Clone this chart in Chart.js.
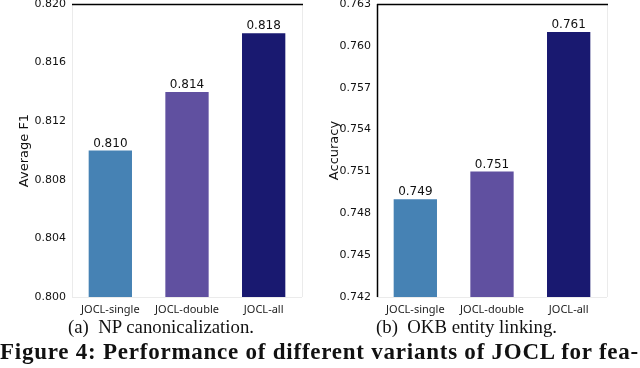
<!DOCTYPE html>
<html><head><meta charset="utf-8">
<script src="https://cdn.jsdelivr.net/npm/chart.js@4/dist/chart.umd.min.js"></script>
<style>
html,body{margin:0;padding:0;background:#fff;width:640px;height:368px;overflow:hidden;position:relative}
.c{position:absolute;top:0}
.cap{position:absolute;font-family:"Liberation Serif","DejaVu Serif",serif;font-size:18.8px;color:#111;white-space:nowrap}
.fig{position:absolute;left:0;top:340px;line-height:23px;font-family:"Liberation Serif","DejaVu Serif",serif;font-weight:bold;font-size:23px;color:#111;white-space:nowrap}
</style></head><body>
<div class="c" style="left:0;width:320px;height:320px"><canvas id="a"></canvas></div>
<div class="c" style="left:320px;width:320px;height:320px"><canvas id="b"></canvas></div>
<div class="cap" id="capA" style="left:68px;top:316px">(a)&nbsp; NP canonicalization.</div>
<div class="cap" id="capB" style="left:376px;top:316px">(b)&nbsp; OKB entity linking.</div>
<div class="fig" id="fig">Figure 4: Performance of different variants of JOCL for fea-</div>
<script>
const categories = ["JOCL-single", "JOCL-double", "JOCL-all"];
const npF1 = [0.810, 0.814, 0.818];
const okbAcc = [0.749, 0.751, 0.761];
const npTicks = {min: 0.800, max: 0.820, step: 0.004};
const okbTicks = {min: 0.742, max: 0.763, step: 0.003};
const barColors = ["#4682B4", "#6050A0", "#191970"];

(function fit(){
  const f = document.getElementById('fig');
  const n = f.textContent.length;
  const w = f.getBoundingClientRect().width;
  f.style.letterSpacing = ((639 - w) / n) + 'px';
})();

const framePlugin = {
  id: 'frame',
  afterDraw(chart, args, opts) {
    const a = chart.chartArea, ctx = chart.ctx;
    ctx.save();
    const line = (x1,y1,x2,y2,c,w)=>{ctx.strokeStyle=c;ctx.lineWidth=w;ctx.beginPath();ctx.moveTo(x1,y1);ctx.lineTo(x2,y2);ctx.stroke();};
    line(a.right+0.5, a.top, a.right+0.5, a.bottom, '#ebebeb', 1);
    line(a.left, a.bottom+0.5, a.right, a.bottom+0.5, '#ebebeb', 1);
    line(a.left+0.5, a.top, a.left+0.5, a.bottom, opts.leftColor, opts.leftWidth);
    line(a.left, a.top+0.5, a.right+1, a.top+0.5, '#000', 1.5);
    ctx.restore();
  }
};
const labelPlugin = {
  id: 'vals',
  afterDatasetsDraw(chart) {
    const ctx = chart.ctx;
    const meta = chart.getDatasetMeta(0);
    ctx.save();
    ctx.font = '12px "DejaVu Sans"';
    ctx.fillStyle = '#111';
    ctx.textAlign = 'center';
    ctx.textBaseline = 'bottom';
    meta.data.forEach((bar, i) => {
      ctx.fillText(chart.data.datasets[0].data[i].toFixed(3), bar.x, bar.y - 1);
    });
    ctx.restore();
  }
};

function make(id, data, t, title, yWidth, padLeft, padRight, leftColor, leftWidth) {
  new Chart(document.getElementById(id), {
    type: 'bar',
    data: {labels: categories, datasets: [{data: data, backgroundColor: barColors, borderWidth: 0, barPercentage: 0.565, categoryPercentage: 1}]},
    options: {
      responsive: true, maintainAspectRatio: false, animation: false, events: [],
      layout: {padding: {left: padLeft, right: padRight, top: 4, bottom: 0}},
      plugins: {legend: {display: false}, tooltip: {enabled: false}, frame: {leftColor, leftWidth}},
      scales: {
        x: {
          grid: {display: false, drawTicks: false}, border: {display: false},
          ticks: {color: '#222', font: {family: '"Noto Sans"', size: 11}, padding: 6, maxRotation: 0},
          afterFit(s) { s.height = 23; s.paddingLeft = 0; s.paddingRight = 0; }
        },
        y: {
          min: t.min, max: t.max,
          grid: {display: false, drawTicks: false}, border: {display: false},
          ticks: {stepSize: t.step, color: '#111', font: {family: '"DejaVu Sans"', size: 11}, padding: 6,
            callback: v => Number(v).toFixed(3)},
          title: {display: true, text: title, color: '#111', font: {family: '"DejaVu Sans"', size: 13}, padding: {top: 0, bottom: 0}},
          afterFit(s) { s.width = yWidth; s.paddingTop = 0; s.paddingBottom = 0; }
        }
      }
    },
    plugins: [framePlugin, labelPlugin]
  });
}
make('a', npF1, npTicks, 'Average F1', 55, 17, 18, '#ebebeb', 1);
make('b', okbAcc, okbTicks, 'Accuracy', 50, 7, 33, '#000', 1.5);
</script>
</body></html>
